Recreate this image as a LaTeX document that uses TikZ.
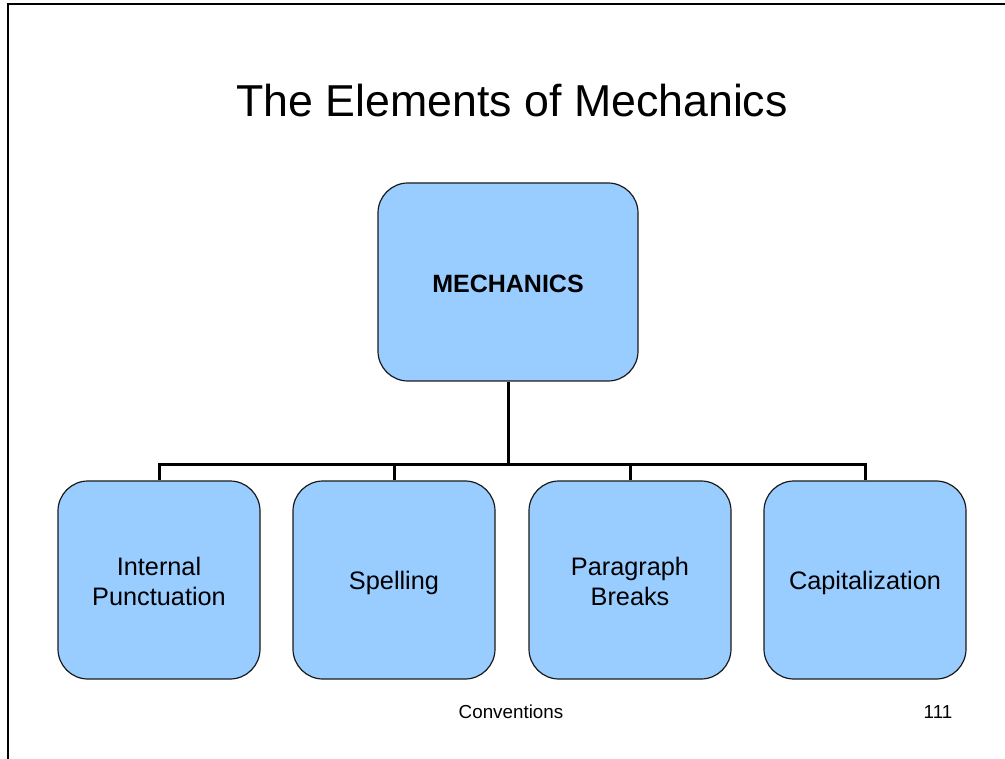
\documentclass[tikz,border=0pt]{standalone}
\usepackage{fontspec}
\setmainfont{Liberation Sans}
\definecolor{boxblue}{HTML}{99CCFF}
\definecolor{boxline}{HTML}{1A1A1A}

\begin{document}
\begin{tikzpicture}[x=1pt,y=-1pt,
  topbox/.style={draw=boxline, fill=boxblue, line width=1.2pt, rounded corners=30pt,
    minimum width=260pt, minimum height=198pt, inner sep=0pt, align=center,
    font=\fontsize{25}{30}\selectfont\bfseries},
  leafbox/.style={draw=boxline, fill=boxblue, line width=1.2pt, rounded corners=30pt,
    minimum width=202pt, minimum height=198pt, inner sep=0pt, align=center,
    font=\fontsize{25.3}{30}\selectfont}]

\useasboundingbox (0,0) rectangle (1005,759);

% slide frame
\draw [line width=1.6pt] (8,759) -- (8,4) -- (1005,4);

\node (title) at (512,101) {\fontsize{44.7}{50}\selectfont The Elements of Mechanics};

\begin{scope}
\node [topbox] (mech) at (508,282) {\rule{0pt}{22pt}MECHANICS};

\node [leafbox] (punct) at (159,580) {\rule{0pt}{22pt}Internal\\Punctuation};
\node [leafbox] (spell) at (394,580) {\rule{0pt}{24pt}Spelling};
\node [leafbox] (para)  at (630,580) {\rule{0pt}{22pt}Paragraph\\Breaks};
\node [leafbox] (caps)  at (865,580) {\rule{0pt}{24pt}Capitalization};
\end{scope}

\coordinate (bus) at (508,465);

\begin{scope}[line width=3pt]
\draw (mech.south) -- (bus);
\draw (punct.north) |- (bus);
\draw (spell.north) |- (bus);
\draw (para.north) |- (bus);
\draw (caps.north) |- (bus);
\end{scope}

\node (foot) at (511,712) {\fontsize{18.8}{22}\selectfont Conventions};
\node (page) at (938,712) {\fontsize{18.8}{22}\selectfont 111};

\end{tikzpicture}
\end{document}
